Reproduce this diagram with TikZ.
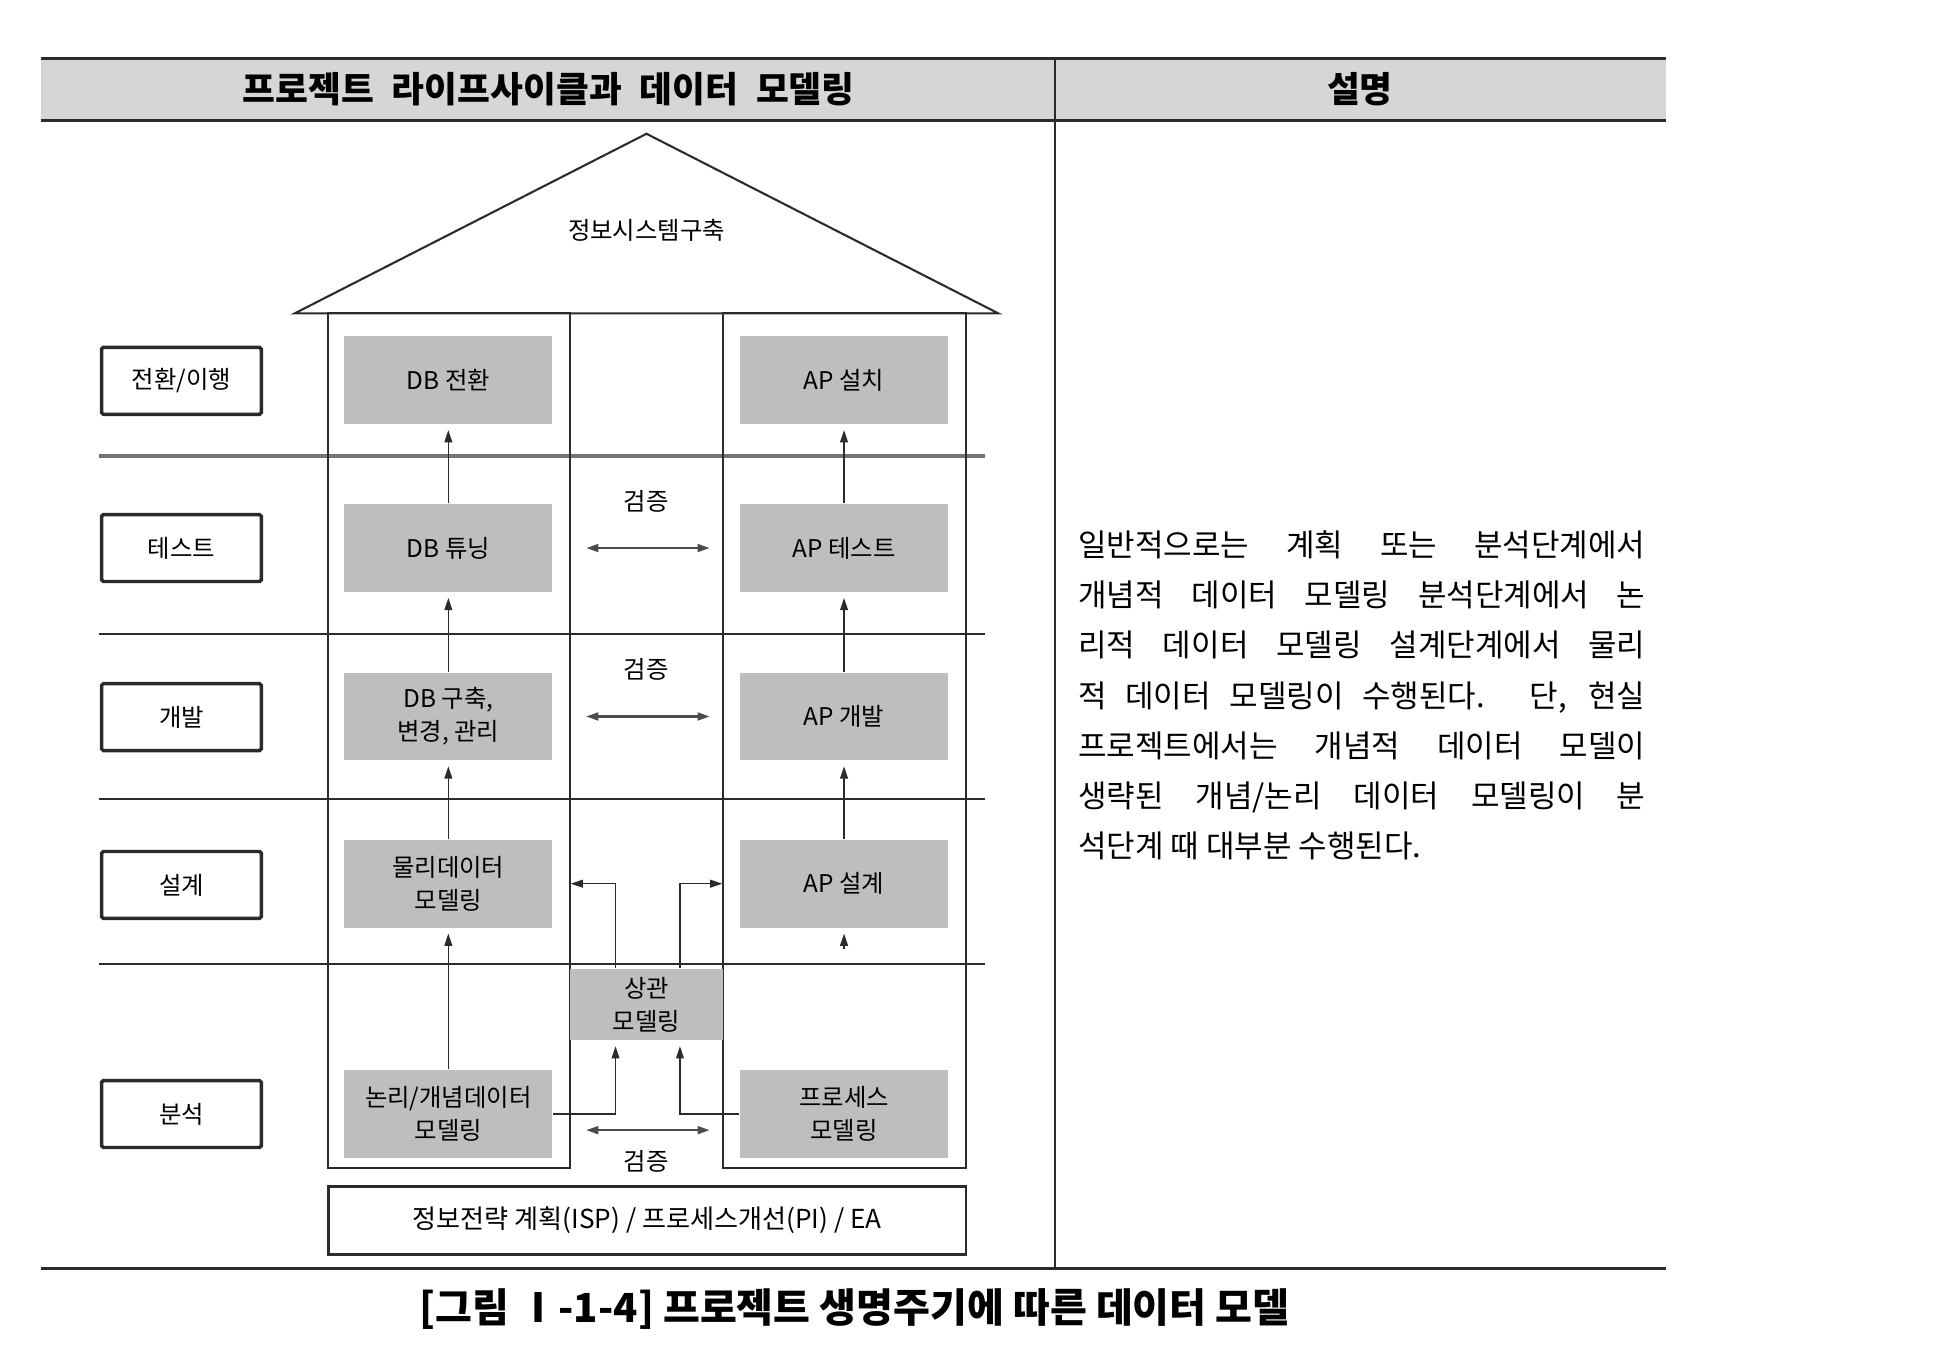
\documentclass[tikz,border=0pt]{standalone}
\usepackage{fontspec}
\setmainfont{Noto Sans CJK KR}
\usetikzlibrary{arrows.meta, positioning, calc}
\definecolor{cbox}{HTML}{BEBEBE}
\definecolor{chead}{HTML}{D6D6D6}
\definecolor{cink}{HTML}{2B2B2B}
\newlength\pu
\setlength\pu{0.25mm}
\tikzset{
  every picture/.style={x=0.25mm, y=-0.25mm, line width=0.8pt},
  small/.style={font=\fontsize{14}{19}\selectfont},
  lbl/.style={small, draw=cink, line width=2pt, rounded corners=1pt, minimum width=129\pu, minimum height=54\pu},
  gbox/.style={small, fill=cbox, minimum width=168\pu, minimum height=71\pu, align=center, inner sep=0pt},
  col/.style={draw=cink, line width=1.1pt, minimum width=#1, minimum height=690\pu, inner sep=0pt},
  arr/.style={-{Triangle[length=7pt, width=4.5pt]}, draw=cink, line width=0.7pt},
  darr/.style={{Triangle[length=7pt, width=4.5pt]}-{Triangle[length=7pt, width=4.5pt]}, draw=black!70, line width=1.3pt, shorten <=19pt, shorten >=17pt},
  rowline/.style={draw=cink, line width=1.1pt},
  head/.style={font=\bfseries\fontsize{20.5}{24}\selectfont},
}

\begin{document}
\begin{tikzpicture}
  \useasboundingbox (0,0) rectangle (1568,1087);
  % table frame
  \fill[chead] (33,47) rectangle (1345,97);
  \draw[line width=1.8pt, cink] (33,47) -- (1345,47);
  \draw[line width=1.8pt, cink] (33,97) -- (1345,97);
  \draw[line width=0.9pt, cink] (852,47) -- (852,1024);
  \draw[line width=1.6pt, cink] (33,1024) -- (1345,1024);
  \node[head] (htitle) at (443,72) {프로젝트\hspace{0.5em}라이프사이클과\hspace{0.5em}데이터\hspace{0.5em}모델링};
  \node[head] (hdesc) at (1098,72) {설명};
  % rows
  \draw[rowline, line width=2pt, draw=black!55] (80,368) -- (795,368);
  \foreach \y in {512,645,778}
    \draw[rowline] (80,\y) -- (795,\y);
  % house
  \draw[line width=1.2pt, cink] (238,253) -- (522,108) -- (806,253) -- cycle;
  \node[small] (roof) at (522,186) {정보시스템구축};
  \node[col=195\pu] (lcol) at (362.5,598) {};
  \node[col=196\pu] (rcol) at (682,598) {};
  % phase labels
  \node[lbl] (rowconv) at (146.5,307.5) {전환/이행};
  \node[lbl] (rowtest) at (146.5,442.5) {테스트};
  \node[lbl] (rowdev) at (146.5,579) {개발};
  \node[lbl] (rowdesign) at (146.5,714.5) {설계};
  \node[lbl] (rowana) at (146.5,899.5) {분석};
  % data side
  \node[gbox] (lconv) at (362,307) {DB 전환};
  \node[gbox] (ltune) at (362,442.5) {DB 튜닝};
  \node[gbox] (lbuild) at (362,578.5) {DB 구축,\\변경, 관리};
  \node[gbox] (lphys) at (362,713.5) {물리데이터\\모델링};
  \node[gbox] (llogic) at (362,899.5) {논리/개념데이터\\모델링};
  % application side
  \node[gbox] (rinst) at (681.5,307) {AP 설치};
  \node[gbox] (rtest) at (681.5,442.5) {AP 테스트};
  \node[gbox] (rdev) at (681.5,578.5) {AP 개발};
  \node[gbox] (rdesign) at (681.5,713.5) {AP 설계};
  \node[gbox] (rproc) at (681.5,899.5) {프로세스\\모델링};
  \node[gbox, minimum width=124\pu, minimum height=58\pu] (corr) at (522,811) {상관\\모델링};
  \node[font=\fontsize{15}{19}\selectfont, draw=cink, line width=1.6pt, minimum width=515\pu, minimum height=55\pu] (base) at (522.5,985.5) {정보전략 계획(ISP) / 프로세스개선(PI) / EA};
  % upward flow
  \draw[arr, shorten >=3pt] (ltune) -- (lconv);
  \draw[arr, shorten >=3pt] (lbuild) -- (ltune);
  \draw[arr, shorten >=3pt] (lphys) -- (lbuild);
  \draw[arr, shorten >=3pt] (llogic) -- (lphys);
  \draw[arr, shorten >=3pt] (rtest) -- (rinst);
  \draw[arr, shorten >=3pt] (rdev) -- (rtest);
  \draw[arr, shorten >=3pt] (rdesign) -- (rdev);
  \coordinate (stub) at (681.5,766);
  \draw[arr, shorten >=3pt] (stub) -- (rdesign.south);
  % correlation modelling
  \draw[arr, shorten >=3pt] (llogic.east) -| ([xshift=-25\pu]corr.south);
  \draw[arr, shorten >=3pt] (rproc.west) -| ([xshift=27\pu]corr.south);
  \draw[arr] ([xshift=-25\pu]corr.north) |- (lcol.east |- lphys.east);
  \draw[arr] ([xshift=27\pu]corr.north) |- (rcol.west |- rdesign.west);
  % verification
  \draw[darr] (ltune.east) -- node[small, yshift=38\pu] (v1) {검증} (rtest.west);
  \draw[darr] (lbuild.east) -- node[small, yshift=38\pu] (v2) {검증} (rdev.west);
  \draw[darr] ([yshift=-13\pu]llogic.east) -- node[small, yshift=-25\pu] (v3) {검증} ([yshift=-13\pu]rproc.west);
  % description
  \node[anchor=west, inner sep=0pt, align=left, font=\fontsize{17.8}{28.8}\selectfont] (desc) at (870,561.5) {%
    \makebox[458\pu][s]{일반적으로는 계획 또는 분석단계에서}\\
    \makebox[458\pu][s]{개념적 데이터 모델링 분석단계에서 논}\\
    \makebox[458\pu][s]{리적 데이터 모델링 설계단계에서 물리}\\
    \makebox[458\pu][s]{적 데이터 모델링이 수행된다. 단, 현실}\\
    \makebox[458\pu][s]{프로젝트에서는 개념적 데이터 모델이}\\
    \makebox[458\pu][s]{생략된 개념/논리 데이터 모델링이 분}\\
    석단계 때 대부분 수행된다.};
  \node[font=\bfseries\fontsize{23}{27}\selectfont] (caption) at (690,1057) {[그림 Ⅰ-1-4] 프로젝트 생명주기에 따른 데이터 모델};
\end{tikzpicture}
\end{document}
